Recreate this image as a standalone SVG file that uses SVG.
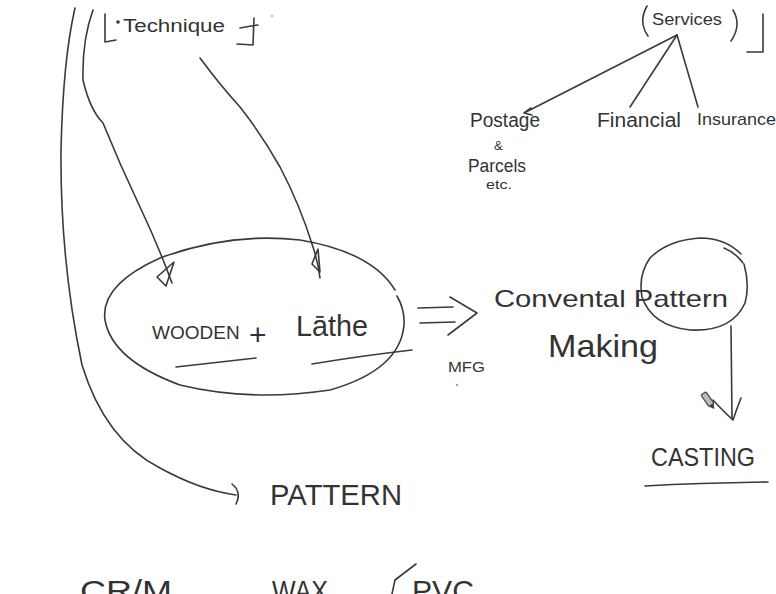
<svg xmlns="http://www.w3.org/2000/svg" width="776" height="594" viewBox="0 0 776 594">
  <style>
    .ink { fill: none; stroke: #3a3a3a; stroke-width: 1.6; stroke-linecap: round; stroke-linejoin: round; }
    .lbl { font-family: "Liberation Sans", "DejaVu Sans", sans-serif; fill: #333; }
  </style>
  <rect width="776" height="594" fill="#ffffff"/>

  <!-- top-left bracket with Technique -->
  <g id="technique">
    <path class="ink" d="M105 14 L105 42 L116 40"/>
    <circle cx="118" cy="22" r="1.8" fill="#333"/>
    <text class="lbl" x="123" y="32" font-size="18" textLength="102" lengthAdjust="spacingAndGlyphs">Technique</text>
    <path class="ink" d="M240 28 Q250 26 258 25 M254 18 L253 45 L237 44"/>
    <circle cx="272" cy="16" r="0.8" fill="#666"/>
  </g>

  <!-- top-right services tree -->
  <g id="services">
    <path class="ink" d="M647 6 Q638 22 648 36"/>
    <text class="lbl" x="652" y="25" font-size="16" textLength="70" lengthAdjust="spacingAndGlyphs">Services</text>
    <path class="ink" d="M733 10 Q742 25 731 41"/>
    <path class="ink" d="M763 14 L763 52 L747 52"/>
  </g>
  <g id="postage">
    <text class="lbl" x="470" y="127" font-size="20" textLength="70" lengthAdjust="spacingAndGlyphs">Postage</text>
    <text class="lbl" x="494" y="150" font-size="13">&amp;</text>
    <text class="lbl" x="468" y="172" font-size="18" textLength="58" lengthAdjust="spacingAndGlyphs">Parcels</text>
    <text class="lbl" x="486" y="189" font-size="13" textLength="26" lengthAdjust="spacingAndGlyphs">etc.</text>
  </g>
  <g id="financial">
    <text class="lbl" x="597" y="127" font-size="20" textLength="84" lengthAdjust="spacingAndGlyphs">Financial</text>
  </g>
  <g id="insurance">
    <text class="lbl" x="697" y="125" font-size="17" textLength="79" lengthAdjust="spacingAndGlyphs">Insurance</text>
  </g>

  <!-- central ellipse -->
  <g id="wooden-lathe">
    <path class="ink" d="M395 290 Q372 252 300 240 Q230 232 160 258 Q100 285 105 320 Q112 360 180 385 Q250 402 330 390 Q400 370 404 325 Q405 310 397 296"/>
    <text class="lbl" x="152" y="339" font-size="19">WOODEN</text>
    <text class="lbl" x="249" y="345" font-size="30">+</text>
    <text class="lbl" x="296" y="336" font-size="30" textLength="72" lengthAdjust="spacingAndGlyphs">Lāthe</text>
    <path class="ink" d="M176 367 L256 358"/>
    <path class="ink" d="M312 364 Q360 356 412 350"/>
  </g>

  <g id="mfg">
    <text class="lbl" x="448" y="372" font-size="14" textLength="37" lengthAdjust="spacingAndGlyphs">MFG</text>
    <circle cx="457" cy="385" r="0.9" fill="#777"/>
  </g>

  <g id="conventional">
    <text class="lbl" x="494" y="307" font-size="24" textLength="234" lengthAdjust="spacingAndGlyphs">Convental Pattern</text>
    <text class="lbl" x="548" y="357" font-size="32" textLength="110" lengthAdjust="spacingAndGlyphs">Making</text>
    <path class="ink" d="M724 248 Q736 253 743 263"/>
    <path class="ink" d="M741 254 Q725 238 700 238 Q668 240 650 258 Q638 275 642 297 Q652 326 690 330 Q732 332 745 303 Q750 285 744 264"/>
  </g>

  <g id="casting">
    <text class="lbl" x="651" y="466" font-size="26" textLength="104" lengthAdjust="spacingAndGlyphs">CASTING</text>
    <path class="ink" d="M645 486 Q700 483 768 482"/>
  </g>

  <g id="pattern">
    <text class="lbl" x="270" y="505" font-size="30" textLength="132" lengthAdjust="spacingAndGlyphs">PATTERN</text>
  </g>

  <!-- line running off the bottom edge -->
  <g id="materials">
    <text class="lbl" x="80" y="601" font-size="30" textLength="92" lengthAdjust="spacingAndGlyphs">CR/M</text>
    <text class="lbl" x="272" y="601" font-size="30" textLength="56" lengthAdjust="spacingAndGlyphs">WAX</text>
    <path class="ink" d="M416 564 L395 580 L392 594"/>
    <text class="lbl" x="412" y="601" font-size="30" textLength="62" lengthAdjust="spacingAndGlyphs">PVC</text>
  </g>

  <!-- connectors -->
  <g id="connectors">
    <!-- long left arc down to PATTERN -->
    <path class="ink" d="M75 8 Q63 60 61 150 Q60 260 82 365 Q105 440 160 468 Q200 490 236 495"/>
    <path class="ink" d="M232 484 Q242 492 236 504"/>
    <!-- inner arc down into WOODEN -->
    <path class="ink" d="M93 10 Q82 40 83 80 Q90 110 103 123 Q120 165 140 207 Q158 245 172 283"/>
    <path class="ink" d="M174 262 L166 286 L157 277 Z"/>
    <!-- Technique to Lathe -->
    <path class="ink" d="M200 58 Q220 85 240 107 Q262 135 280 167 Q300 205 313 247 Q318 262 320 278"/>
    <path class="ink" d="M318 249 L312 264 L320 272 Z"/>
    <!-- service tree -->
    <path class="ink" d="M677 35 L524 113 M524 113 L531 108 M524 113 L532 115"/>
    <path class="ink" d="M677 35 L630 107"/>
    <path class="ink" d="M677 35 L698 107"/>
    <!-- double arrow to conventional pattern making -->
    <path class="ink" d="M418 308 L453 307 M420 323 L455 322"/>
    <path class="ink" d="M450 297 L477 313 L448 335"/>
    <!-- circle down to CASTING -->
    <path class="ink" d="M731 326 L732 419"/>
    <path class="ink" d="M713 400 Q724 412 733 420 Q737 408 741 398"/>
  </g>

  <!-- pen cursor, tip pointing down-right -->
  <g id="pen-cursor" transform="translate(708 400) rotate(55)">
    <rect x="-8" y="-3" width="14" height="6" rx="1" fill="#bbb" stroke="#444" stroke-width="1.2"/>
    <path d="M6 -3 L11 0 L6 3 Z" fill="#444"/>
  </g>
</svg>
